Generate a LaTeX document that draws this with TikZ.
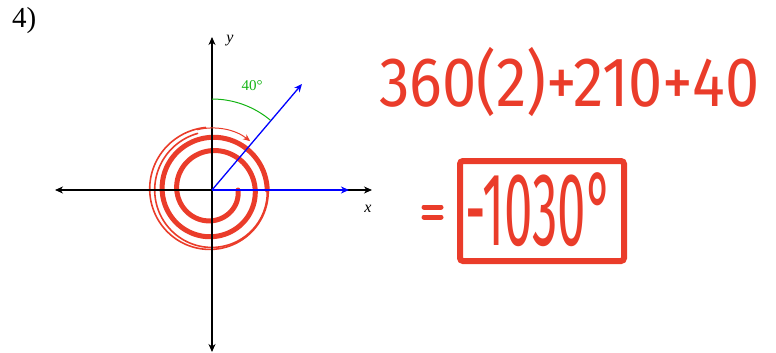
\documentclass[tikz,border=0pt]{standalone}
\usepackage{fontspec}
\setmainfont{Liberation Serif}
\newfontfamily\handfont{Fira Sans}
\usetikzlibrary{arrows.meta,calc}
\definecolor{ink}{RGB}{234,60,42}
\definecolor{angg}{RGB}{20,180,20}
\tikzset{
  axis/.style={line width=1.1pt,-{Stealth[length=8pt,width=7pt,inset=2.5pt]}},
  vec/.style={blue,line width=1.3pt,-{Stealth[length=8pt,width=7pt,inset=2.5pt]}},
  hand/.style={ink,font=\handfont},
  thickred/.style={ink,line width=5pt,line cap=round,line join=round},
  thinred/.style={ink,line width=1.6pt,line cap=round,line join=round}
}
\begin{document}
\begin{tikzpicture}[x=1pt,y=-1pt]
\useasboundingbox (0,0) rectangle (776,353);
\coordinate (O) at (212,190);
\coordinate (xl) at (55,190);
\coordinate (xr) at (372,190);
\coordinate (yt) at (212,37);
\coordinate (yb) at (212,352);
\node[font=\fontsize{29}{31}\selectfont,anchor=west,inner sep=0pt] (num) at (12,21) {4)};
% spiral (drawn first, under axes)
\draw[thickred] plot[domain=0:-720,samples=240,variable=\t]
  ({212+(26+0.055*abs(\t)-0.2*(\t/100)*(\t/100))*cos(\t)},{190-(26+0.055*abs(\t)-0.2*(\t/100)*(\t/100))*sin(\t)});
\draw[thinred] plot[domain=-700:-985,samples=120,variable=\t]
  ({211+(28+0.055*abs(\t)-0.2*(\t/100)*(\t/100))*cos(\t)},{190-(28+0.055*abs(\t)-0.2*(\t/100)*(\t/100))*sin(\t)});
\draw[thinred] plot[domain=-690:-975,samples=120,variable=\t]
  ({213+(25+0.055*abs(\t)-0.2*(\t/100)*(\t/100))*cos(\t)},{191-(25+0.055*abs(\t)-0.2*(\t/100)*(\t/100))*sin(\t)});
% axes
\draw[axis] (O) -- (xr);
\draw[axis] (O) -- (xl);
\draw[axis] (O) -- (yt);
\draw[axis] (O) -- (yb);
\node[font=\itshape\fontsize{16}{18}\selectfont] (ylab) at (230,41) {y};
\node[font=\itshape\fontsize{16}{18}\selectfont] (xlab) at (368,209) {x};
% vectors
\coordinate (tip) at (302,84);
\coordinate (xtip) at (349,190);
\draw[vec] (O) -- (tip);
\draw[vec] (O) -- (xtip);
% angle arcs
\draw[angg,line width=1pt] (212,99) arc[start angle=-90,end angle=-50,radius=91];
\node[angg,font=\fontsize{15}{17}\selectfont] (ang) at (252,86) {40°};
\draw[ink,line width=1pt,-{Stealth[length=7pt,width=6pt,inset=2pt]}] ($(O)+(-104:62)$) arc[start angle=-104,end angle=-52,radius=62];
% handwriting
\node[hand,anchor=west,inner sep=0pt,font=\handfont\fontsize{70}{72}\selectfont] (expr) at (379,82) {\scalebox{0.875}[1]{360(2)+210+40}};
\coordinate (eqa) at (424,207); \coordinate (eqb) at (441,207);
\coordinate (eqc) at (424,217); \coordinate (eqd) at (441,217);
\draw[ink,line width=5pt,line cap=round] (eqa) -- (eqb);
\draw[ink,line width=5pt,line cap=round] (eqc) -- (eqd);
\node[hand,draw=ink,line width=6pt,rounded corners=3pt,minimum width=164pt,minimum height=100pt,inner sep=0pt] (box) at (542,211) {};
\node[hand,font=\handfont\fontsize{104}{106}\selectfont] (res) at (539,210) {\scalebox{0.49}[1]{-1030°}};
\end{tikzpicture}
\end{document}
